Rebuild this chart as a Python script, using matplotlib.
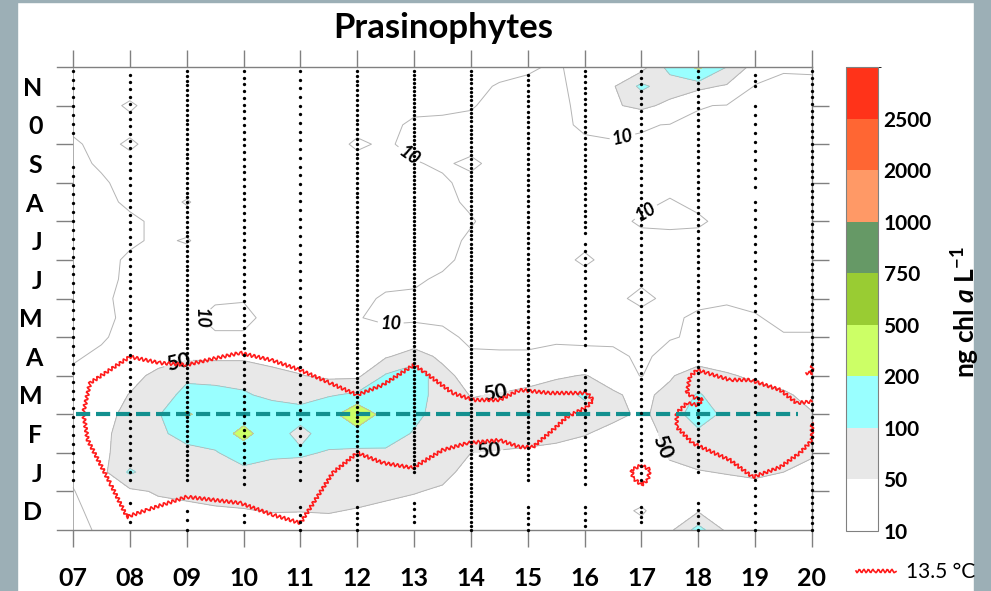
import numpy as np
import matplotlib
matplotlib.use("Agg")
import matplotlib.pyplot as plt
from matplotlib.colors import ListedColormap, BoundaryNorm
from matplotlib.patches import Rectangle
from matplotlib.lines import Line2D

plt.rcParams['font.family'] = ['Lato', 'DejaVu Sans']
plt.rcParams['mathtext.fontset'] = 'custom'
plt.rcParams['mathtext.rm'] = 'Lato:bold'
plt.rcParams['mathtext.it'] = 'Lato:bold:italic'
plt.rcParams['mathtext.bf'] = 'Lato:bold'

# ---------------- data ----------------
title = "Prasinophytes"
year_ticks = [7, 8, 9, 10, 11, 12, 13, 14, 15, 16, 17, 18, 19, 20]
year_labels = ["07", "08", "09", "10", "11", "12", "13", "14", "15", "16", "17", "18", "19", "20"]
month_labels = ["D", "J", "F", "M", "A", "M", "J", "J", "A", "S", "0", "N"]   # bottom -> top
cbar_levels = [10, 50, 100, 200, 500, 750, 1000, 2000, 2500, 3000]
cbar_colors = ['#ffffff', '#e8e8e8', '#99ffff', '#ccff66', '#99cc33',
               '#669966', '#ff9966', '#ff6633', '#ff3319']

# grid: years 7..20 step 0.5 (columns), month position 0..12 step 0.5 (rows, listed top -> bottom)
grid_years = np.arange(7, 20.01, 0.5)
grid_months = np.arange(12, -0.01, -0.5)
chl = [
    [15,16,18,18,20,20,18,18,20,20,18,18,18,16,16,14,12,8,16,25,30,120,220,100,30,12,12],   # 12.0
    [14,15,16,18,18,20,20,18,18,18,17,17,16,15,13,9,7,7,15,45,112,70,60,45,8,6,7],          # 11.5
    [15,15,8,16,18,18,17,18,17,16,16,15,13,12,11,6,5,6,14,45,60,40,11,9,6,5,6],             # 11.0
    [13,14,14,16,17,18,17,16,16,15,14,13,8,8,7,5,5,7,12,13,12,9,7,6,5,5,6],                 # 10.5
    [8,14,8,15,16,17,16,16,15,15,8,12,6,6,5,5,5,6,8,9,7,6,5,5,5,6,7],                       # 10.0
    [6,12,14,15,16,17,16,16,16,15,14,13,11,8,13,5,5,5,5,6,6,5,5,5,6,6,6],                   # 9.5
    [5,8,15,16,16,17,17,16,16,16,15,14,14,12,6,5,5,5,6,6,6,6,6,5,5,6,6],                    # 9.0
    [5,7,12,15,9,16,17,17,16,16,16,15,15,13,8,5,5,6,6,6,7,11,7,6,5,5,6],                    # 8.5
    [5,6,8,12,15,16,17,17,17,16,16,16,15,13,11,5,5,6,6,6,12,13,12,6,5,5,6],                 # 8.0
    [5,6,8,12,9,16,17,17,17,17,16,16,15,14,8,6,5,6,7,6,6,6,6,5,5,5,6],                      # 7.5
    [5,6,12,14,15,16,16,17,17,17,16,16,15,13,6,5,5,6,12,6,6,6,6,5,5,6,6],                   # 7.0
    [5,7,12,14,15,15,15,16,16,16,15,14,12,8,5,5,5,5,6,6,7,6,6,6,6,6,6],                     # 6.5
    [5,8,13,14,14,12,11,14,15,15,14,8,8,6,5,5,5,5,5,6,14,6,7,9,7,6,6],                      # 6.0
    [5,7,13,14,14,6,6,15,16,16,11,6,7,7,5,5,5,5,6,5,5,8,12,12,11,7,7],                      # 5.5
    [6,8,16,18,18,12,12,18,20,22,20,18,20,14,7,6,6,7,6,6,5,9,12,14,13,11,11],               # 5.0
    [8,13,22,30,40,40,40,38,30,25,25,45,70,40,12,12,12,15,15,14,7,15,25,25,22,18,18],       # 4.5
    [13,18,35,62,90,85,85,60,52,40,40,105,135,65,30,32,35,45,52,35,8,45,75,55,42,35,30],    # 4.0
    [18,25,52,75,115,115,105,90,80,95,110,140,125,75,48,52,60,70,110,55,40,62,105,72,65,55,40],   # 3.5
    [20,35,62,90,215,140,140,125,120,150,300,150,115,75,60,65,68,70,75,58,45,62,140,80,72,65,52], # 3.0
    [20,40,68,92,115,130,240,125,85,125,150,130,95,75,62,62,62,60,52,40,35,60,85,70,70,68,58],    # 2.5
    [18,42,68,80,88,95,130,110,108,95,85,90,80,70,50,48,45,40,35,30,30,55,65,62,65,62,52],        # 2.0
    [14,35,108,70,75,80,85,80,75,78,75,72,68,60,38,35,32,30,28,26,25,42,48,52,55,50,45],          # 1.5
    [9,22,40,55,60,65,65,65,62,65,62,58,52,45,28,25,24,22,22,22,22,30,35,35,40,38,35],            # 1.0
    [7,15,25,35,40,45,48,52,51,52,48,42,38,32,22,20,20,18,18,18,7,25,45,25,30,28,28],             # 0.5
    [6,12,18,22,28,30,30,32,35,38,35,30,28,25,20,18,18,17,16,16,18,40,120,40,25,25,25],           # 0.0
]

# 13.5 degC isotherm (year, month position)
iso_main_year = [7.18, 7.3, 8.0, 8.53, 9.0, 9.5, 9.94, 10.5, 10.99, 11.52, 12.0, 12.45, 13.0, 13.2,
                 13.68, 14.04, 14.5, 14.86, 15.39, 15.87, 16.04, 16.15, 16.04, 15.69, 15.44, 15.09,
                 14.86, 14.5, 13.93, 13.5, 12.98, 12.45, 12.0, 11.57, 11.0, 10.5, 9.94, 9.0, 8.3,
                 7.95, 7.65, 7.26, 7.18]
iso_main_month = [3.03, 3.81, 4.49, 4.33, 4.28, 4.45, 4.59, 4.4, 4.15, 3.81, 3.5, 3.76, 4.28, 4.07,
                  3.55, 3.37, 3.37, 3.63, 3.55, 3.55, 3.55, 3.37, 3.19, 2.93, 2.59, 2.15,
                  2.15, 2.33, 2.25, 2.07, 1.61, 1.74, 2.0, 1.48, 0.18, 0.4, 0.7, 0.86, 0.52,
                  0.34, 1.22, 2.33, 3.03]
iso_right_year = [20.0, 19.73, 19.44, 18.91, 18.56, 18.15, 17.98, 17.85, 17.8, 17.9, 18.08, 17.98,
                  17.8, 17.62, 17.62, 17.9, 18.56, 18.96, 19.44, 19.79, 20.0, 20.0]
iso_right_month = [3.33, 3.29, 3.63, 3.89, 3.89, 4.07, 4.15, 3.97, 3.55, 3.45, 3.37, 3.24,
                   3.29, 3.03, 2.67, 2.25, 1.81, 1.37, 1.63, 2.0, 2.33, 2.77]
iso_small_year = [17.0, 17.15, 17.11, 17.0, 16.85, 16.83, 17.0]
iso_small_month = [1.68, 1.56, 1.3, 1.17, 1.35, 1.56, 1.68]
iso_edge_year = [19.9, 20.0, 20.0]
iso_edge_month = [4.08, 4.08, 4.25]

march_line_year = [7.05, 19.75]
march_line_month = [3.0, 3.0]

# sampling runs: year, first (top) position, last (bottom) position, number of samples
run_year = [7, 7, 8, 8, 9, 9, 10, 10, 11, 11, 12, 12, 13, 13, 14, 15, 15,
            16, 16, 16, 16, 17, 17, 18, 18, 19, 19, 19, 20]
run_top = [11.9, 9.4, 11.8, 0.7, 11.9, 0.5, 11.9, 0.4, 11.9, 0.6, 11.9, 0.6, 11.9, 0.7, 11.9, 11.8, 0.6,
           11.9, 7.4, 4.15, 0.6, 11.9, 0.6, 11.9, 0.7, 11.8, 11.0, 8.5, 11.9]
run_bottom = [10.3, 1.3, 1.3, 0.2, 1.3, 0.0, 1.2, 0.2, 1.3, 0.0, 1.3, 0.0, 1.5, 0.2, 0.0, 1.3, 0.0,
              7.7, 4.8, 1.2, 0.1, 1.3, 0.2, 1.5, 0.0, 11.5, 8.9, 0.0, 0.0]
run_count = [8, 36, 56, 2, 85, 3, 62, 2, 48, 4, 85, 5, 100, 4, 110, 78, 5,
             30, 16, 18, 4, 62, 4, 66, 5, 3, 10, 40, 70]

# ---------------- figure ----------------
fig = plt.figure(figsize=(9.91, 5.91), dpi=100, facecolor='white')
frame_col = '#9cafb6'
fig.patches.extend([
    Rectangle((0, 0), 17 / 991, 1, transform=fig.transFigure, color=frame_col, zorder=0),
    Rectangle((974 / 991, 0), 17 / 991, 1, transform=fig.transFigure, color=frame_col, zorder=0),
    Rectangle((0, 1 - 2 / 591), 1, 2 / 591, transform=fig.transFigure, color=frame_col, zorder=0),
])

ax = fig.add_axes([57 / 991, 61 / 591, 755 / 991, 463 / 591])
ax.set_facecolor('white')

Z = np.array(chl, dtype=float)
X, Y = np.meshgrid(grid_years, grid_months)
cmap = ListedColormap(cbar_colors)
norm = BoundaryNorm(cbar_levels, cmap.N)
cf = ax.contourf(X, Y, Z, levels=cbar_levels, cmap=cmap, norm=norm, zorder=1)
line_col = '#b4b4b4'
cs10 = ax.contour(X, Y, Z, levels=[10], colors=line_col, linewidths=0.7, zorder=2)
cs50 = ax.contour(X, Y, Z, levels=[50], colors=line_col, linewidths=0.7, zorder=2)
ax.contour(X, Y, Z, levels=[100, 200], colors=line_col, linewidths=0.6, zorder=2)

lab10 = ax.clabel(cs10, fmt='%d', fontsize=13, colors='black', inline=True, inline_spacing=3,
                  manual=[(12.84, 9.59), (9.22, 5.44), (12.58, 5.5), (16.67, 10.16), (17.03, 8.37)])
lab50 = ax.clabel(cs50, fmt='%d', fontsize=15, colors='black', inline=True, inline_spacing=3,
                  manual=[(8.9, 4.1), (14.42, 3.58), (14.3, 2.2), (17.47, 2.2)])
for t in list(lab10):
    t.set_fontweight('bold')
    t.set_fontstyle('italic')
for t in list(lab50):
    t.set_fontweight('bold')

# isotherm lines (wavy)
red = '#ff1a1a'
for xs, ys in [(iso_main_year, iso_main_month), (iso_right_year, iso_right_month),
               (iso_small_year, iso_small_month), (iso_edge_year, iso_edge_month)]:
    ln, = ax.plot(xs, ys, color=red, lw=1.2, zorder=4, clip_on=False)
    ln.set_sketch_params(scale=1.7, length=4.5, randomness=1.0)

# March line
ml, = ax.plot(march_line_year, march_line_month, color='#13908f', lw=3, zorder=5,
              solid_capstyle='butt', dash_capstyle='butt')
ml.set_dashes([3.4, 1.4])

# sampling dots
dot_x, dot_y = [], []
for yr, top, bot, n in zip(run_year, run_top, run_bottom, run_count):
    pts = np.linspace(top, bot, n)
    dot_x.extend([yr] * n)
    dot_y.extend(pts)
ax.plot(dot_x, dot_y, 'o', color='black', markersize=2.4, markeredgewidth=0, zorder=6, clip_on=False)

# axes styling
ax.set_xlim(7 - 16 / 56.85, 20)
ax.set_ylim(0, 12)
gray = '#808080'
for s in ['top', 'bottom', 'right', 'left']:
    ax.spines[s].set_color(gray)
    ax.spines[s].set_linewidth(1.0)
ax.spines['left'].set_position(('data', 7))
ax.spines['left'].set_color('#a0a0a0')
ax.spines['left'].set_linewidth(0.6)

ax.set_xticks(year_ticks)
ax.set_xticklabels(year_labels)
ax.tick_params(axis='x', which='major', direction='out', length=12.5, width=1, color=gray,
               top=True, bottom=True, labeltop=False, labelbottom=True, pad=14,
               labelsize=18)
ax.set_yticks(list(range(1, 12)))
ax.set_yticklabels([])
ax.tick_params(axis='y', which='major', direction='out', length=12, width=1, color=gray,
               left=True, right=True, labelleft=False)
ax.set_yticks(np.arange(0.5, 12, 1), minor=True)
ax.set_yticklabels(month_labels, minor=True)
ax.tick_params(axis='y', which='minor', length=0, left=True, right=False, pad=22, labelsize=18)
for t in ax.get_xticklabels() + ax.get_yticklabels(minor=True):
    t.set_fontweight('bold')

# colorbar
cax = fig.add_axes([846 / 991, 60 / 591, 32 / 991, 464 / 591])
cb = fig.colorbar(cf, cax=cax, spacing='uniform', ticks=cbar_levels[:-1])
cb.set_ticklabels([str(v) for v in cbar_levels[:-1]])
cb.ax.tick_params(length=0, labelsize=15, pad=4)
for t in cb.ax.get_yticklabels():
    t.set_fontweight('bold')
cb.outline.set_edgecolor(gray)
cb.outline.set_linewidth(0.8)

fig.text(966 / 991, 1 - 312 / 591, r'ng chl $a$ L$^{-1}$', rotation=90, ha='center', va='center',
         fontsize=19, fontweight='bold')

fig.text(443 / 991, 1 - 28 / 591, title, ha='center', va='center', fontsize=25, fontweight='bold')

h = Line2D([], [], color=red, lw=1.2)
h.set_sketch_params(scale=1.7, length=4.5, randomness=1.0)
fig.legend(handles=[h], labels=['13.5 °C'], loc='center left', bbox_to_anchor=(856 / 991, 19 / 591),
           frameon=False, handlelength=1.9, handletextpad=0.5, borderpad=0, borderaxespad=0,
           fontsize=15)

fig.savefig('out.png', dpi=100, facecolor='white')
